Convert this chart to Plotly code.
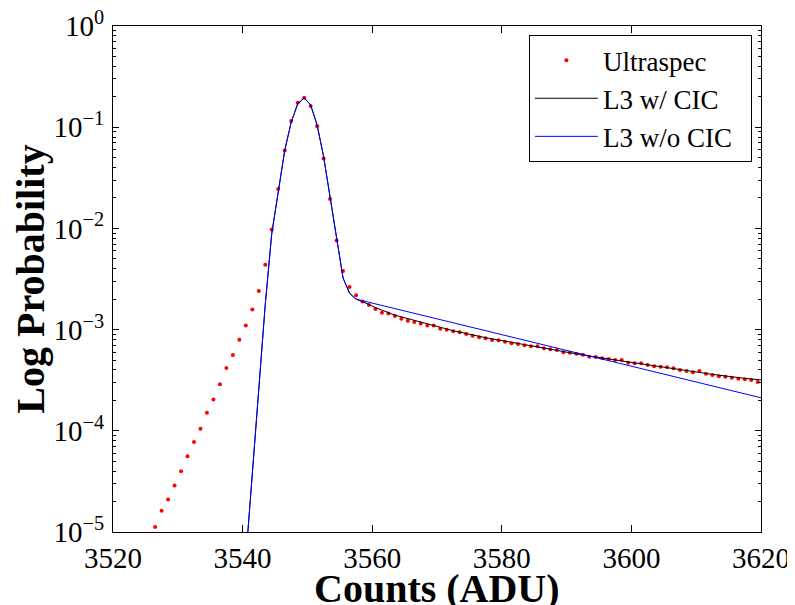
import numpy as np
import plotly.graph_objects as go

# Ultraspec measured histogram (bin centres, probability)
ultra_x = np.arange(3526.5, 3620.0, 1.0)
ultra_p = [
    1.12e-5, 1.62e-5, 2.09e-5, 2.88e-5, 3.98e-5, 5.62e-5, 7.76e-5, 1.05e-4, 1.51e-4, 2.04e-4,
    2.88e-4, 4.17e-4, 5.62e-4, 7.94e-4, 1.10e-3, 1.58e-3, 2.40e-3, 4.37e-3, 9.77e-3, 2.45e-2,
    5.89e-2, 0.115, 0.174, 0.195, 0.162, 0.102, 0.049, 0.0195, 7.6e-3, 3.8e-3,
    2.63e-3, 2.19e-3,
    1.89e-3, 1.75e-3, 1.60e-3, 1.47e-3, 1.44e-3, 1.36e-3, 1.28e-3, 1.22e-3, 1.19e-3, 1.15e-3,
    1.10e-3, 1.10e-3, 1.02e-3, 9.98e-4, 9.62e-4, 9.40e-4, 9.05e-4, 8.71e-4, 8.40e-4, 8.20e-4,
    7.89e-4, 7.84e-4, 7.59e-4, 7.32e-4, 7.21e-4, 7.00e-4, 6.84e-4, 6.84e-4, 6.53e-4, 6.39e-4,
    6.29e-4, 5.97e-4, 5.91e-4, 5.78e-4, 5.65e-4, 5.40e-4, 5.36e-4, 5.20e-4, 5.12e-4, 5.01e-4,
    5.01e-4, 4.71e-4, 4.65e-4, 4.65e-4, 4.47e-4, 4.34e-4, 4.30e-4, 4.24e-4, 4.15e-4, 3.99e-4,
    3.90e-4, 3.79e-4, 3.90e-4, 3.66e-4, 3.56e-4, 3.45e-4, 3.42e-4, 3.35e-4, 3.27e-4, 3.23e-4,
    3.18e-4, 3.03e-4,
]

# Model core (shared by both L3 models)
core_x = [3540.5, 3541.5, 3542.5, 3543.5, 3544.5, 3545.5, 3546.5, 3547.5, 3548.5,
          3549.5, 3550.5, 3551.5, 3552.5, 3553.5, 3554.5, 3555.5, 3556.5, 3557.5]
core_p = [5.5e-6, 3.98e-5, 2.75e-4, 1.78e-3, 8.9e-3, 0.0229, 0.0589, 0.112, 0.170,
          0.195, 0.166, 0.105, 0.0513, 0.0204, 7.76e-3, 3.24e-3, 2.29e-3, 2.0e-3]

# L3 with CIC tail
cic_tail_x = [3558.5, 3560.5, 3563.5, 3567.5, 3572.5, 3577.5, 3582.5, 3587.5,
              3592.5, 3597.5, 3602.5, 3607.5, 3612.5, 3617.5, 3620.0]
cic_tail_p = [1.89e-3, 1.65e-3, 1.39e-3, 1.18e-3, 9.75e-4, 8.32e-4, 7.26e-4, 6.38e-4,
              5.61e-4, 5.01e-4, 4.47e-4, 3.99e-4, 3.61e-4, 3.30e-4, 3.18e-4]

# L3 without CIC tail
nocic_tail_x = [3620.0]
nocic_tail_p = [2.12e-4]

y_tickvals = [1e-5, 1e-4, 1e-3, 1e-2, 1e-1, 1e0]
y_ticktext = ["10<sup>\u22125</sup>", "10<sup>\u22124</sup>", "10<sup>\u22123</sup>",
              "10<sup>\u22122</sup>", "10<sup>\u22121</sup>", "10<sup>0</sup>"]
y_minor = [m * d for d in [1e-5, 1e-4, 1e-3, 1e-2, 1e-1] for m in range(2, 10)]
x_tickvals = [3520, 3540, 3560, 3580, 3600, 3620]

FONT = "Liberation Serif"

fig = go.Figure()
fig.add_trace(go.Scatter(x=ultra_x, y=ultra_p, mode="markers", name="Ultraspec",
                         marker=dict(color="#ff0000", size=4)))
fig.add_trace(go.Scatter(x=core_x + cic_tail_x, y=core_p + cic_tail_p, mode="lines",
                         name="L3 w/ CIC", line=dict(color="#000000", width=1)))
fig.add_trace(go.Scatter(x=core_x + nocic_tail_x, y=core_p + nocic_tail_p, mode="lines",
                         name="L3 w/o CIC\u00a0\u00a0", line=dict(color="#0000ff", width=1)))

# page body keeps an 8px margin, so the figure is 8px smaller and margins shifted
fig.update_layout(
    width=787, height=597,
    margin=dict(l=105, r=34, t=18, b=73),
    paper_bgcolor="white", plot_bgcolor="white",
    font=dict(family=FONT, size=29, color="black"),
    showlegend=True,
    legend=dict(x=0.986, y=0.982, xanchor="right", yanchor="top",
                bgcolor="white", bordercolor="black", borderwidth=1,
                font=dict(family=FONT, size=27, color="black"),
                tracegroupgap=0, itemwidth=63),
    xaxis=dict(
        range=[3520, 3620], tickmode="array", tickvals=x_tickvals,
        ticks="inside", ticklen=7, tickcolor="black", tickwidth=1,
        showline=True, linecolor="black", linewidth=1, mirror="ticks",
        showgrid=False, zeroline=False, automargin=False, ticklabeloverflow="allow",
        tickfont=dict(family=FONT, size=29, color="black"),
    ),
    yaxis=dict(
        type="log", range=[-5, 0], tickmode="array", tickvals=y_tickvals, ticktext=y_ticktext,
        ticks="inside", ticklen=6, tickcolor="black", tickwidth=1,
        showline=True, linecolor="black", linewidth=1, mirror="ticks",
        showgrid=False, zeroline=False, ticklabelstandoff=2, automargin=False,
        ticklabeloverflow="allow",
        minor=dict(tickmode="array", tickvals=y_minor, ticks="inside", ticklen=3,
                   tickcolor="black", showgrid=False),
        tickfont=dict(family=FONT, size=29, color="black"),
        title=dict(text="<b>Log Probability</b>", font=dict(family=FONT, size=40, color="black"),
                   standoff=1),
    ),
    annotations=[dict(text="<b>Counts (ADU)</b>", xref="paper", yref="paper",
                      x=0.5, y=-0.1107, xanchor="center", yanchor="middle",
                      showarrow=False, font=dict(family=FONT, size=40, color="black"))],
)

fig.write_html("out.html")
